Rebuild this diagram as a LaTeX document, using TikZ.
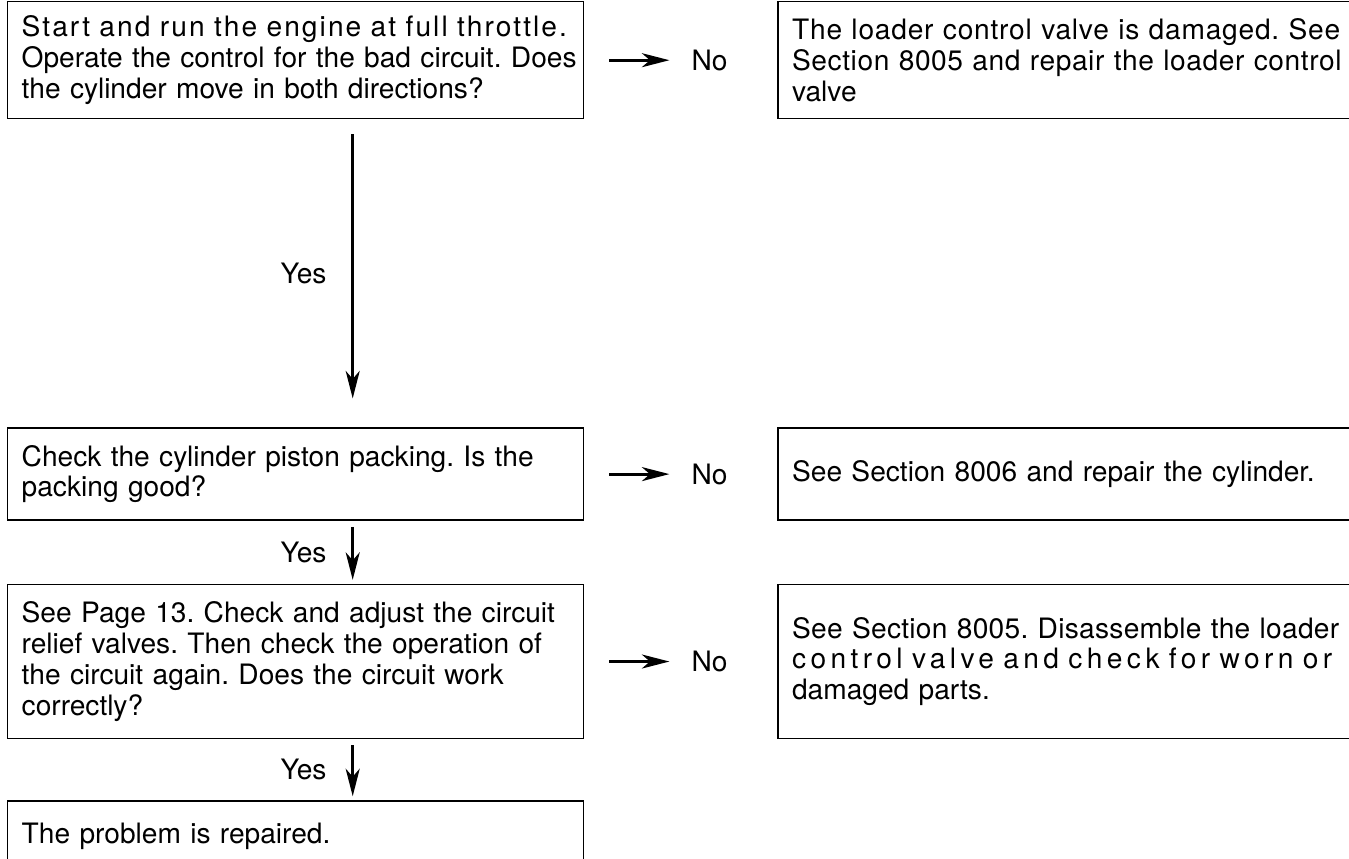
\documentclass[tikz,border=0pt]{standalone}
\usepackage{fontspec}
\setmainfont{TeX Gyre Heros}
\usetikzlibrary{arrows.meta, positioning, calc}
\frenchspacing
\newcommand{\spreadline}[2]{\mbox{\addfontfeatures{LetterSpace=#1}#2}}

\begin{document}
\begin{tikzpicture}[
    box/.style={draw, line width=0.8pt, inner xsep=0.28cm, text width=10.96cm, align=left, font=\fontsize{16}{17.5}\selectfont},
    arrow/.style={-{Stealth[length=5.5mm, width=2.8mm, inset=1.6mm]}, line width=1.6pt},
    lbl/.style={font=\fontsize{16}{17.5}\selectfont}
]
    \useasboundingbox (0,0) rectangle (26.98,-17.16);

    \node[box, minimum height=2.34cm, anchor=north west] (qstart) at (0.14,-0.02) {\spreadline{7.4}{Start and run the engine at full throttle.}\\ \mbox{Operate the control for the bad circuit. Does}\\ the cylinder move in both directions?};
    \node[box, minimum height=2.34cm, right=3.86cm of qstart] (avalve) {\spreadline{2.8}{The loader control valve is damaged. See}\\ \spreadline{2.1}{Section 8005 and repair the loader control}\\ valve};

    \node[box, minimum height=1.84cm, below=6.16cm of qstart] (qpack) {Check the cylinder piston packing. Is the\\ packing good?};
    \node[box, minimum height=1.84cm, right=3.86cm of qpack] (acyl) {See Section 8006 and repair the cylinder.};

    \node[box, minimum height=3.08cm, below=1.26cm of qpack] (qrelief) {See Page 13. Check and adjust the circuit\\ relief valves. Then check the operation of\\ the circuit again. Does the circuit work\\ correctly?};
    \node[box, minimum height=3.08cm, right=3.86cm of qrelief] (aparts) {\spreadline{1.0}{See Section 8005. Disassemble the loader}\\ \spreadline{15.6}{control valve and check for worn or}\\ damaged parts.};

    \node[box, minimum height=1.4cm, below=1.22cm of qrelief] (done) {The problem is repaired.};

    % yes branches
    \coordinate (ax) at ($(qstart.south)+(1.14,0)$);
    \draw[arrow, shorten <=0.3cm, shorten >=0.58cm] (qstart.south -| ax) -- (qpack.north -| ax) node[midway, left=0.38cm, lbl] {Yes};
    \draw[arrow, shorten <=0.12cm, shorten >=0.08cm] (qpack.south -| ax) -- (qrelief.north -| ax) node[midway, left=0.38cm, lbl] {Yes};
    \draw[arrow, shorten <=0.12cm, shorten >=0.08cm] (qrelief.south -| ax) -- (done.north -| ax) node[midway, left=0.38cm, lbl] {Yes};

    % no branches
    \foreach \q in {qstart, qpack, qrelief} {
        \coordinate (\q-from) at ($(\q.east)+(0.5,0)$);
        \coordinate (\q-to) at ($(\q.east)+(1.7,0)$);
        \draw[arrow] (\q-from) -- (\q-to) node[right=0.3cm, lbl] {No};
    }
\end{tikzpicture}
\end{document}
